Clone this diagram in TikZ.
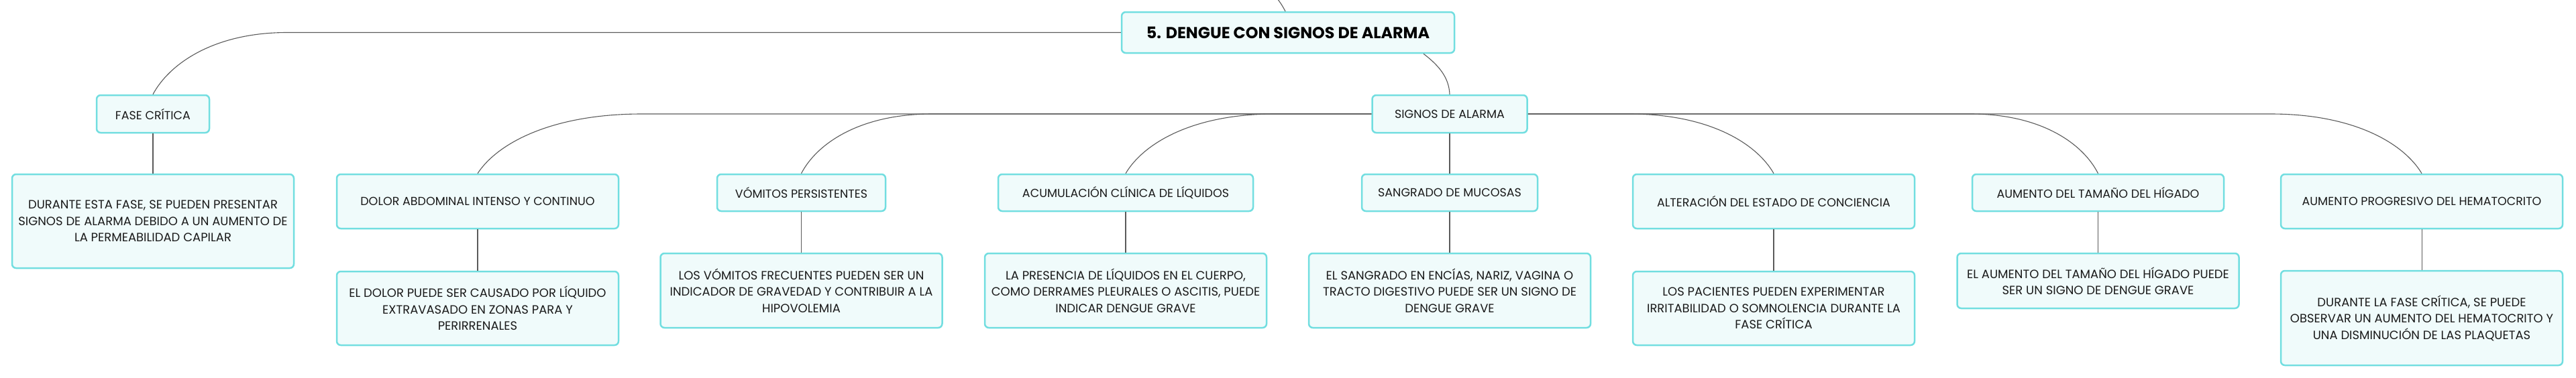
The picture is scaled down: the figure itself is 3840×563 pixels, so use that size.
\documentclass[tikz,border=0pt]{standalone}
\usepackage{fontspec}
\setmainfont{Poppins}
\usetikzlibrary{calc}
\definecolor{bord}{HTML}{72DEE0}
\definecolor{boxfill}{HTML}{F0FBFB}
\definecolor{edgec}{HTML}{5A5A5A}
\definecolor{txt}{HTML}{1A1A1A}
\tikzset{
  box/.style={draw=bord, line width=2.5pt, fill=boxfill, rounded corners=6pt,
    align=center, inner sep=0pt, text=txt, font=\fontsize{17.5}{24.5}\selectfont},
  descbox/.style={box, font=\fontsize{18}{24.5}\selectfont},
  titlebox/.style={box, text=black, font=\fontsize{23.8}{26}\selectfont\bfseries},
  link/.style={draw=edgec, line width=1.1pt},
}
\newcommand{\mmlink}[3]{%
  \draw[link] (#1) -- ($(#2.north |- #1)+({#3},0)$)
    .. controls ($(#2.north |- #1)+({0.45*#3},0)$) and ($(#2.north)+({0.12*#3},-45)$) .. (#2.north);}
\begin{document}
\begin{tikzpicture}[x=1pt,y=-1pt]
\useasboundingbox (0,0) rectangle (3840,563);
% nodes
\node[titlebox, minimum width=496, minimum height=61] (title) at (1920,48.5) {5. DENGUE CON SIGNOS DE ALARMA};
\node[box, minimum width=168, minimum height=56] (fase) at (228,170) {FASE CRÍTICA};
\node[box, minimum width=231, minimum height=56] (signos) at (2161,170) {SIGNOS DE ALARMA};
\node[descbox, minimum width=420, minimum height=140] (fasedesc) at (228,330) {DURANTE ESTA FASE, SE PUEDEN PRESENTAR\\SIGNOS DE ALARMA DEBIDO A UN AUMENTO DE\\LA PERMEABILIDAD CAPILAR};
\node[box, minimum width=420, minimum height=81] (dolor) at (712,300.5) {DOLOR ABDOMINAL INTENSO Y CONTINUO};
\node[descbox, minimum width=420, minimum height=110] (dolordesc) at (712,460) {EL DOLOR PUEDE SER CAUSADO POR LÍQUIDO\\EXTRAVASADO EN ZONAS PARA Y\\PERIRRENALES};
\node[box, minimum width=251, minimum height=55] (vomitos) at (1194.5,287.5) {VÓMITOS PERSISTENTES};
\node[descbox, minimum width=420, minimum height=111] (vomdesc) at (1194.5,433.5) {LOS VÓMITOS FRECUENTES PUEDEN SER UN\\INDICADOR DE GRAVEDAD Y CONTRIBUIR A LA\\HIPOVOLEMIA};
\node[box, minimum width=380, minimum height=55] (acum) at (1678,287.5) {ACUMULACIÓN CLÍNICA DE LÍQUIDOS};
\node[descbox, minimum width=420, minimum height=111] (acumdesc) at (1678,433.5) {LA PRESENCIA DE LÍQUIDOS EN EL CUERPO,\\COMO DERRAMES PLEURALES O ASCITIS, PUEDE\\INDICAR DENGUE GRAVE};
\node[box, minimum width=262, minimum height=55] (sangrado) at (2161,287.5) {SANGRADO DE MUCOSAS};
\node[descbox, minimum width=420, minimum height=111] (sangdesc) at (2161,433.5) {EL SANGRADO EN ENCÍAS, NARIZ, VAGINA O\\TRACTO DIGESTIVO PUEDE SER UN SIGNO DE\\DENGUE GRAVE};
\node[box, minimum width=420, minimum height=81] (alter) at (2644,300.5) {ALTERACIÓN DEL ESTADO DE CONCIENCIA};
\node[descbox, minimum width=420, minimum height=110] (alterdesc) at (2644,460) {LOS PACIENTES PUEDEN EXPERIMENTAR\\IRRITABILIDAD O SOMNOLENCIA DURANTE LA\\FASE CRÍTICA};
\node[box, minimum width=375, minimum height=55] (higado) at (3127.5,287.5) {AUMENTO DEL TAMAÑO DEL HÍGADO};
\node[descbox, minimum width=420, minimum height=82] (higdesc) at (3127.5,419) {EL AUMENTO DEL TAMAÑO DEL HÍGADO PUEDE\\SER UN SIGNO DE DENGUE GRAVE};
\node[box, minimum width=420, minimum height=81] (hema) at (3610,300.5) {AUMENTO PROGRESIVO DEL HEMATOCRITO};
\node[descbox, minimum width=420, minimum height=141] (hemadesc) at (3610,474.5) {DURANTE LA FASE CRÍTICA, SE PUEDE\\OBSERVAR UN AUMENTO DEL HEMATOCRITO Y\\UNA DISMINUCIÓN DE LAS PLAQUETAS};
% connectors
\coordinate (topin) at (1904,-2);
\draw[link] (topin) .. controls (1910,6) .. ($(title.north)+(-4,0)$);
\mmlink{title.west}{fase}{200}
\draw[link] ($(title.south)+(202,0)$) .. controls (2148,100) and (2160,118) .. (signos.north);
\mmlink{signos.west}{dolor}{245}
\mmlink{signos.west}{vomitos}{195}
\mmlink{signos.west}{acum}{222}
\mmlink{signos.east}{alter}{-215}
\mmlink{signos.east}{higado}{-190}
\mmlink{signos.east}{hema}{-225}
\draw[link] (fase) -- (fasedesc);
\draw[link] (dolor) -- (dolordesc);
\draw[link] (vomitos) -- (vomdesc);
\draw[link] (acum) -- (acumdesc);
\draw[link] (signos) -- (sangrado);
\draw[link] (sangrado) -- (sangdesc);
\draw[link] (alter) -- (alterdesc);
\draw[link] (higado) -- (higdesc);
\draw[link] (hema) -- (hemadesc);
\end{tikzpicture}
\end{document}
